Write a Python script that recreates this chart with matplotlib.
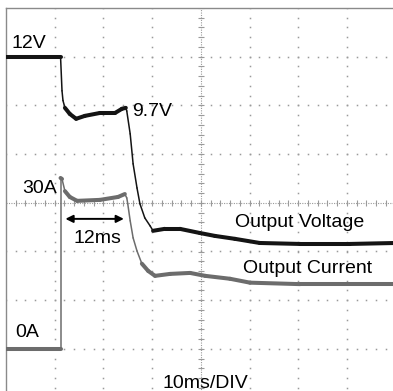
import matplotlib
matplotlib.use("Agg")
import matplotlib.pyplot as plt
import numpy as np
from matplotlib.collections import LineCollection

plt.rcParams["font.family"] = ["Liberation Sans", "DejaVu Sans"]

# scope settings: 10 ms/div, 2 V/div, 10 A/div, both grounds one division up
T_DIV = 10.0
V_DIV = 2.0
I_DIV = 10.0

# output voltage trace (ms, V)
t_volt = [0.0, 11.2, 11.5, 11.7, 12.1, 13.1, 14.4, 16.2, 19.3, 22.4, 23.8, 24.6,
          24.8, 25.5, 26.1, 26.9, 27.5, 28.5, 29.6, 30.2, 32.6, 35.7, 39.8,
          42.9, 47.0, 52.1, 60.4, 70.6, 80.0]
volt = [12.0, 12.0, 10.6, 10.2, 9.9, 9.65, 9.45, 9.57, 9.69, 9.69, 9.86, 9.9,
        9.77, 8.83, 7.6, 6.61, 5.96, 5.38, 5.05, 4.85, 4.93, 4.93, 4.76,
        4.64, 4.52, 4.35, 4.31, 4.31, 4.35]

# output current trace (ms, A)
t_amp = [0.0, 11.2, 11.2, 11.5, 12.1, 13.1, 14.6, 19.3, 23.0, 24.4, 24.8, 25.0,
         25.5, 26.1, 26.9, 27.9, 29.2, 30.6, 33.7, 37.8, 40.9, 46.0, 50.1,
         60.4, 80.0]
amp = [0.0, 0.0, 35.1, 34.9, 32.4, 31.2, 30.4, 30.6, 31.2, 31.8, 31.0, 29.8,
       26.3, 22.8, 20.1, 17.5, 16.0, 15.0, 15.4, 15.6, 15.0, 14.4, 13.6,
       13.3, 13.3]

hold_ms = 12.0
hold_start = 12.2

GRID = "#9a9a9a"

fig = plt.figure(figsize=(3.93, 3.91), dpi=100)
ax = fig.add_axes([6 / 393, -6.6 / 391, 389.6 / 393, 389.6 / 391])
ax.set_xlim(0, 8 * T_DIV)
ax.set_ylim(-V_DIV, 7 * V_DIV)
axi = ax.twinx()
axi.set_ylim(-I_DIV, 7 * I_DIV)
axi.axis("off")

for sp in ax.spines.values():
    sp.set_color("#8a8a8a")
    sp.set_linewidth(1.0)
ax.set_xticks([])
ax.set_yticks([])

# dotted graticule, five dots per division
minor_t = np.arange(0, 8 * T_DIV + 0.01, T_DIV / 5)
minor_v = np.arange(-V_DIV, 7 * V_DIV + 0.01, V_DIV / 5)
center_t = 4 * T_DIV
center_v = 3 * V_DIV
for v in np.arange(0, 7 * V_DIV - 0.01, V_DIV):
    if v == center_v:
        continue
    ax.plot(minor_t, np.full_like(minor_t, v), ls="none", marker="s", ms=1.1,
            mec="none", mfc=GRID, zorder=1)
for t in np.arange(T_DIV, 8 * T_DIV - 0.01, T_DIV):
    if t == center_t:
        continue
    ax.plot(np.full_like(minor_v, t), minor_v, ls="none", marker="s", ms=1.1,
            mec="none", mfc=GRID, zorder=1)

# centre cross with tick marks
ax.axhline(center_v, color=GRID, lw=0.8, ls=(0, (1, 1.2)), zorder=1)
ax.axvline(center_t, color=GRID, lw=0.8, ls=(0, (1, 1.2)), zorder=1)
ax.plot(minor_t, np.full_like(minor_t, center_v), ls="none", marker="|", ms=4,
        mew=0.8, mec=GRID, zorder=1)
ax.plot(np.full_like(minor_v, center_t), minor_v, ls="none", marker="_", ms=4,
        mew=0.8, mec=GRID, zorder=1)


def trace(axis, t, y, color, thick, thin):
    # noisy flat parts look like a wide band, fast edges stay thin
    xy = np.column_stack([t, y])
    d = np.diff(axis.transData.transform(xy), axis=0)
    steep = np.abs(d[:, 1]) > 1.3 * np.abs(d[:, 0])
    widths = np.where(steep, thin, thick)
    segs = np.stack([xy[:-1], xy[1:]], axis=1)
    axis.add_collection(LineCollection(segs, colors=color, linewidths=widths,
                                       capstyle="round", joinstyle="round",
                                       zorder=3))


trace(axi, t_amp, amp, "#6c6c6c", 2.9, 1.1)
trace(ax, t_volt, volt, "#141414", 2.9, 1.1)

# 12 ms hold-up arrow
ax.annotate("", xy=(hold_start + hold_ms, 5.34), xytext=(hold_start, 5.34),
            arrowprops=dict(arrowstyle="<|-|>", color="black", lw=1.4,
                            mutation_scale=11, shrinkA=0, shrinkB=0), zorder=4)

fs = 14
txt = dict(fontsize=fs, color="black", va="baseline", zorder=5)
ax.text(1.2, 12.36, "12V", **txt)
ax.text(25.9, 9.57, "9.7V", **txt)
ax.text(3.3, 6.41, "30A", **txt)
ax.text(hold_start + hold_ms / 2 + 0.6, 4.35, f"{hold_ms:.0f}ms", ha="center", **txt)
ax.text(47.0, 5.01, "Output Voltage", **txt)
ax.text(48.7, 3.12, "Output Current", **txt)
ax.text(1.85, 0.49, "0A", **txt)
ax.text(32.2, -1.6, "10ms/DIV", **txt)

fig.savefig("out.png", dpi=100, facecolor="white")
